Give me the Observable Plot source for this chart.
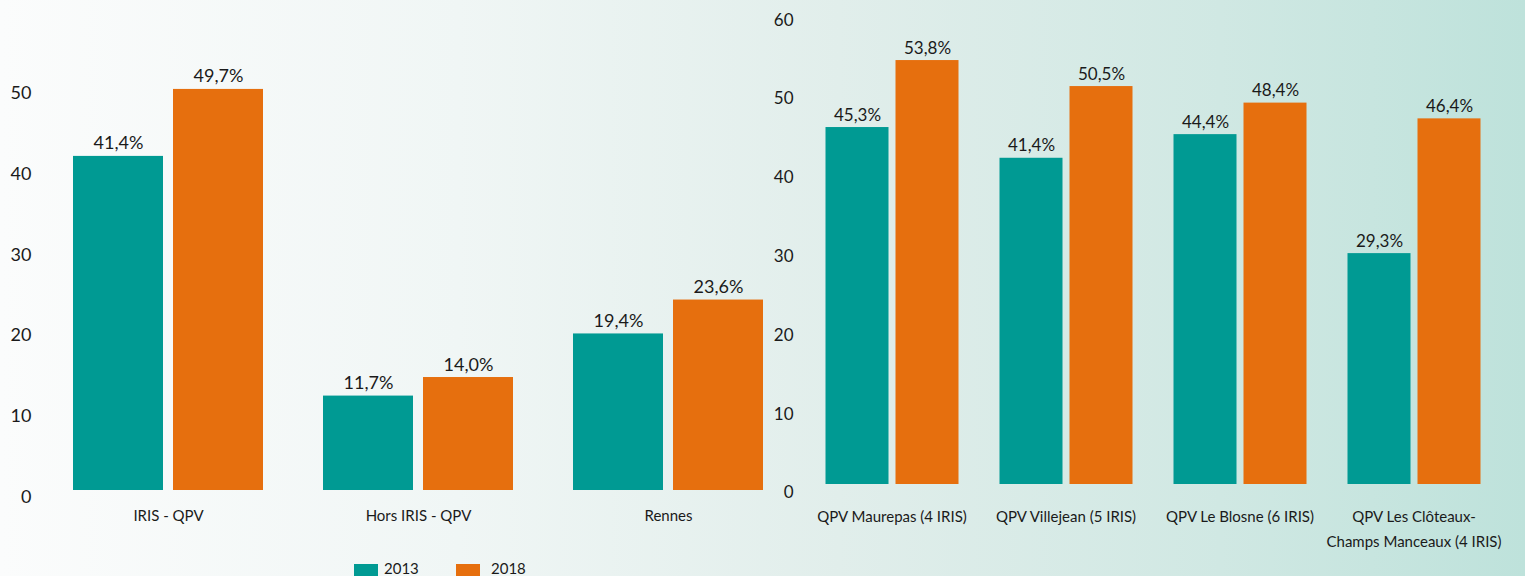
<!DOCTYPE html>
<html>
<head>
<meta charset="utf-8">
<script src="https://cdn.jsdelivr.net/npm/d3@7"></script>
<script src="https://cdn.jsdelivr.net/npm/@observablehq/plot@0.6"></script>
<style>
  html, body { margin: 0; padding: 0; }
  #wrap {
    position: relative; width: 1525px; height: 576px; overflow: hidden;
    background: linear-gradient(90deg, #fbfcfc 0%, #f0f6f5 30%, #e1eeeb 55%, #d0e8e3 80%, #bee2db 100%);
    font-family: Lato, "Open Sans", sans-serif; color: #1a1a1a;
  }
  #p1 { position: absolute; left: 0; top: 0; }
  #p2 { position: absolute; left: 740px; top: 0; }
  .sw { position: absolute; width: 24px; height: 12px; }
  .lt { position: absolute; font-size: 15px; line-height: 15px; }
</style>
</head>
<body>
<div id="wrap">
  <div id="p1"></div>
  <div id="p2"></div>
  <div class="sw" style="left:354px; top:564px; background:#009a93"></div>
  <div class="lt" style="left:384px; top:561px;">2013</div>
  <div class="sw" style="left:456px; top:564px; background:#e66f0e"></div>
  <div class="lt" style="left:491px; top:561px;">2018</div>
</div>
<script>
const years = ["2013", "2018"];
const colors = ["#009a93", "#e66f0e"];

const cats1 = ["IRIS - QPV", "Hors IRIS - QPV", "Rennes"];
const v2013a = [41.4, 11.7, 19.4];
const v2018a = [49.7, 14.0, 23.6];
const yTicks1 = [0, 10, 20, 30, 40, 50];

const cats2 = ["QPV Maurepas (4 IRIS)", "QPV Villejean (5 IRIS)", "QPV Le Blosne (6 IRIS)", "QPV Les Clôteaux-\nChamps Manceaux (4 IRIS)"];
const v2013b = [45.3, 41.4, 44.4, 29.3];
const v2018b = [53.8, 50.5, 48.4, 46.4];
const yTicks2 = [0, 10, 20, 30, 40, 50, 60];

function table(cats, a, b) {
  const out = [];
  cats.forEach((c, i) => {
    out.push({cat: c, year: "2013", value: a[i]});
    out.push({cat: c, year: "2018", value: b[i]});
  });
  return out;
}
const fmt = v => v.toFixed(1).replace(".", ",") + "%";

const data1 = table(cats1, v2013a, v2018a);
const data2 = table(cats2, v2013b, v2018b);

const p1 = Plot.plot({
  width: 800, height: 576,
  marginLeft: 43, marginRight: 7, marginTop: 86.5, marginBottom: 86,
  style: {background: "transparent", fontFamily: "Lato, sans-serif", color: "#1a1a1a", overflow: "visible"},
  fx: {domain: cats1, paddingInner: 0.24, paddingOuter: 0.12, label: null},
  x: {domain: years, paddingInner: 0.1, paddingOuter: 0, axis: null},
  y: {domain: [0, 50], axis: null},
  color: {domain: years, range: colors},
  marks: [
    Plot.barY(data1, {fx: "cat", x: "year", y: "value", fill: "year"}),
    Plot.text(data1, {fx: "cat", x: "year", y: "value", text: d => fmt(d.value), lineAnchor: "bottom", dy: -7, fontSize: 18, fill: "#1a1a1a"}),
    Plot.axisY({ticks: yTicks1, tickSize: 0, tickPadding: 42, fontSize: 18, dy: 6.5, label: null, anchor: "left"}),
    Plot.axisFx({anchor: "bottom", tickSize: 0, tickPadding: 20, fontSize: 15, label: null})
  ]
});
document.getElementById("p1").appendChild(p1);

const p2 = Plot.plot({
  width: 785, height: 576,
  marginLeft: 64.5, marginRight: 24.5, marginTop: 11.2, marginBottom: 92,
  style: {background: "transparent", fontFamily: "Lato, sans-serif", color: "#1a1a1a", overflow: "visible"},
  fx: {domain: cats2, paddingInner: 41 / 174, paddingOuter: 20.5 / 174, label: null},
  x: {domain: years, paddingInner: 0.1, paddingOuter: 0, axis: null},
  y: {domain: [0, 60], axis: null},
  color: {domain: years, range: colors},
  marks: [
    Plot.barY(data2, {fx: "cat", x: "year", y: "value", fill: "year"}),
    Plot.text(data2, {fx: "cat", x: "year", y: "value", text: d => fmt(d.value), lineAnchor: "bottom", dy: -7, fontSize: 17, fill: "#1a1a1a"}),
    Plot.axisY({ticks: yTicks2, tickSize: 0, tickPadding: 32, fontSize: 17, dy: 8.5, label: null, anchor: "left"}),
    Plot.axisFx({anchor: "bottom", tickSize: 0, tickPadding: 20, fontSize: 15, lineHeight: 1.65, label: null})
  ]
});
document.getElementById("p2").appendChild(p2);
</script>
</body>
</html>
